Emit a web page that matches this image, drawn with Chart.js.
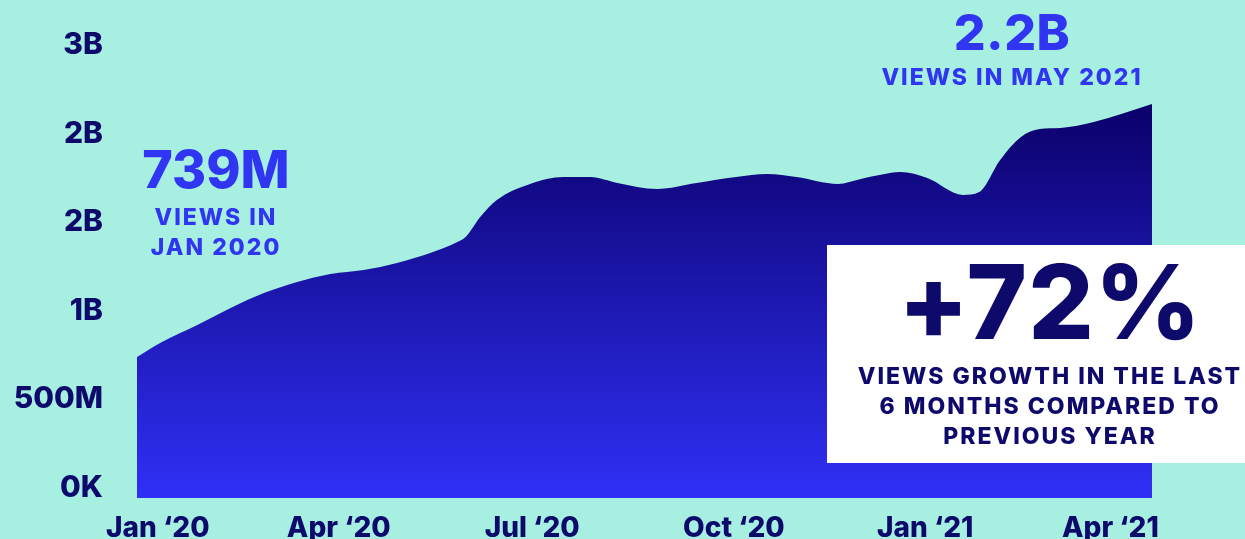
<!DOCTYPE html>
<html>
<head>
<meta charset="utf-8">
<script src="https://cdn.jsdelivr.net/npm/chart.js@4.4.1/dist/chart.umd.min.js"></script>
<style>
  html, body { margin: 0; padding: 0; background: #a7efe0; }
  #wrap { position: relative; width: 1245px; height: 539px; overflow: hidden; font-family: Inter, "Liberation Sans", sans-serif; }
  canvas { position: absolute; left: 0; top: 0; }
  .note { position: absolute; text-align: center; font-weight: 800; white-space: nowrap; }
  .big { color: #2f35f0; line-height: 1; }
  .small { color: #2f35f0; font-size: 23px; letter-spacing: 2px; line-height: 30px; }
  #box { position: absolute; left: 827px; top: 245px; width: 418px; height: 218px; background: #fff; }
</style>
</head>
<body>
<div id="wrap">
  <canvas id="viewsChart" width="1245" height="539"></canvas>

  <div class="note" style="left:116px; top:144px; width:200px;">
    <div class="big" style="font-size:52px;">739M</div>
    <div class="small" style="margin-top:6px;">VIEWS IN<br>JAN 2020</div>
  </div>

  <div class="note" style="left:862px; top:7px; width:300px;">
    <div class="big" style="font-size:50px; letter-spacing:0.5px;">2.2B</div>
    <div class="small" style="margin-top:5px;">VIEWS IN MAY 2021</div>
  </div>

  <div id="box"></div>
  <div class="note" style="left:850px; top:250px; width:400px; color:#0e0a6b;">
    <div style="font-size:103px; line-height:1; letter-spacing:1px;">+72%</div>
    <div style="font-size:23px; letter-spacing:2px; line-height:30px; margin-top:8px;">VIEWS GROWTH IN THE LAST<br>6 MONTHS COMPARED TO<br>PREVIOUS YEAR</div>
  </div>
</div>

<script>
// Data: days since 1 Jan 2020, views in millions
const days = [0, 12, 29, 45, 61, 77, 93, 109, 125, 141, 154, 158, 165, 173, 189, 205, 218, 231, 250, 269, 288, 303, 317, 337, 348, 357, 367, 380, 397, 405, 415, 425, 434, 444, 460, 488]
const views = [739, 824, 920, 1016, 1100, 1163, 1208, 1230, 1270, 1326, 1388, 1416, 1529, 1625, 1716, 1755, 1755, 1721, 1687, 1721, 1755, 1772, 1755, 1716, 1744, 1766, 1783, 1749, 1654, 1670, 1851, 1981, 2026, 2032, 2065, 2167]

// Axis ticks
const xTickDays = [10, 97, 190, 287, 379, 468]
const xTickLabels = ["Jan \u201820", "Apr \u201820", "Jul \u201820", "Oct \u201820", "Jan \u201821", "Apr \u201821"]
const yTickValues = [0, 500, 1000, 1500, 2000, 2500]
const yTickLabels = ["0K", "500M", "1B", "2B", "2B", "3B"]

const navy = "#0e0a6b"

const ctx = document.getElementById("viewsChart").getContext("2d")

new Chart(ctx, {
  type: "line",
  data: {
    datasets: [
      {
        label: "Views",
        data: days.map((d, i) => ({ x: d, y: views[i] })),
        fill: "start",
        borderWidth: 0,
        pointRadius: 0,
        cubicInterpolationMode: "monotone",
        backgroundColor: (context) => {
          const chart = context.chart
          const area = chart.chartArea
          if (!area) return "#1a14b0"
          // gradient runs from the highest point of the data down to the baseline
          const top = chart.scales.y.getPixelForValue(Math.max(...views))
          const g = chart.ctx.createLinearGradient(0, top, 0, area.bottom)
          g.addColorStop(0, "#0b006a")
          g.addColorStop(1, "#2f30f6")
          return g
        },
      },
    ],
  },
  options: {
    responsive: false,
    animation: false,
    layout: { padding: { left: 0, right: 93, top: 45, bottom: 0 } },
    plugins: {
      legend: { display: false },
      tooltip: { enabled: false },
    },
    scales: {
      x: {
        type: "linear",
        min: 0,
        max: 488,
        border: { display: false },
        grid: { display: false, drawTicks: false },
        afterBuildTicks: (scale) => {
          scale.ticks = xTickDays.map((v) => ({ value: v }))
        },
        afterFit: (scale) => {
          scale.height = 41
          scale.paddingLeft = 0
          scale.paddingRight = 0
        },
        ticks: {
          autoSkip: false,
          maxRotation: 0,
          padding: 14,
          color: navy,
          font: { family: "Inter", size: 28, weight: "800" },
          callback: (value) => xTickLabels[xTickDays.indexOf(value)],
        },
      },
      y: {
        min: -56,
        max: 2500,
        border: { display: false },
        grid: { display: false, drawTicks: false },
        afterBuildTicks: (scale) => {
          scale.ticks = yTickValues.map((v) => ({ value: v }))
        },
        afterFit: (scale) => {
          scale.width = 137
          scale.paddingTop = 0
          scale.paddingBottom = 0
        },
        ticks: {
          padding: 34,
          color: navy,
          font: { family: "Inter", size: 30, weight: "800" },
          callback: (value) => yTickLabels[yTickValues.indexOf(value)],
        },
      },
    },
  },
})
</script>
</body>
</html>
